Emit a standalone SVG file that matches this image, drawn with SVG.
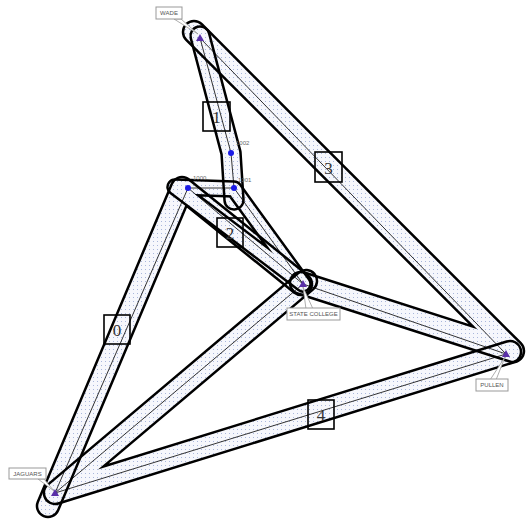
<svg xmlns="http://www.w3.org/2000/svg" xmlns:xlink="http://www.w3.org/1999/xlink" width="526" height="520" viewBox="0 0 526 520">
<style>
.rp{fill:none;stroke-linejoin:round;stroke-linecap:round}
.fillb{stroke:url(#dots)}
.outl{stroke:#000}
.cl{fill:none;stroke:#000;stroke-width:0.8}
.rbox{fill:none;stroke:#000;stroke-width:1.6}
.rnum{font-family:"Liberation Serif",serif;font-size:17px;fill:#333;text-anchor:middle}
.lbox{fill:#fff;stroke:#999;stroke-width:1}
.ltxt{font-family:"Liberation Sans",Arial,sans-serif;font-size:6px;fill:#555;text-anchor:middle}
.lead{fill:#fff;stroke:#999;stroke-width:0.8}
.stop{fill:#1a1ae6}
.term{fill:#5a2fa8}
.num{font-family:"Liberation Sans",Arial,sans-serif;font-size:6px;fill:#666}
</style>
<defs>
<pattern id="dots" width="4" height="4" patternUnits="userSpaceOnUse">
<rect width="4" height="4" fill="#f6f7fc"/>
<rect x="1" y="1" width="1" height="1" fill="#a9b7dc"/>
</pattern>
<path id="r0" class="rp" d="M48,506 L182,188 L301,284"/>
<path id="r1" class="rp" d="M200,36 L231,153 L234,200"/>
<path id="r2" class="rp" d="M175,187 L234,189 L303,284 Z"/>
<path id="r3" class="rp" d="M194,32 L513,351 L301,283"/>
<path id="r4" class="rp" d="M510,352 L55,493 L306,281"/>
<mask id="m0" maskUnits="userSpaceOnUse" x="0" y="0" width="526" height="520"><rect width="526" height="520" fill="#fff"/><use xlink:href="#r0" stroke="#000" stroke-width="19.5"/></mask>
<mask id="m1" maskUnits="userSpaceOnUse" x="0" y="0" width="526" height="520"><rect width="526" height="520" fill="#fff"/><use xlink:href="#r1" stroke="#000" stroke-width="16.5"/></mask>
<mask id="m2" maskUnits="userSpaceOnUse" x="0" y="0" width="526" height="520"><rect width="526" height="520" fill="#fff"/><use xlink:href="#r2" stroke="#000" stroke-width="12.5"/></mask>
<mask id="m3" maskUnits="userSpaceOnUse" x="0" y="0" width="526" height="520"><rect width="526" height="520" fill="#fff"/><use xlink:href="#r3" stroke="#000" stroke-width="19.5"/></mask>
<mask id="m4" maskUnits="userSpaceOnUse" x="0" y="0" width="526" height="520"><rect width="526" height="520" fill="#fff"/><use xlink:href="#r4" stroke="#000" stroke-width="19.5"/></mask>
</defs>
<rect width="526" height="520" fill="#fff"/>
<g id="connectors">
<g id="band-fills">
<use xlink:href="#r0" class="fillb" stroke-width="21"/>
<use xlink:href="#r1" class="fillb" stroke-width="18"/>
<use xlink:href="#r2" class="fillb" stroke-width="14"/>
<use xlink:href="#r3" class="fillb" stroke-width="21"/>
<use xlink:href="#r4" class="fillb" stroke-width="21"/>
</g>
<g id="links">
<path class="cl" d="M55,493 L188,188"/>
<path class="cl" d="M55,493 L303,284"/>
<path class="cl" d="M55,493 L506,354"/>
<path class="cl" d="M188,188 L234,188"/>
<path class="cl" d="M188,188 L303,284"/>
<path class="cl" d="M234,188 L303,284"/>
<path class="cl" d="M200,38 L231,153 L234,188"/>
<path class="cl" d="M200,38 L506,354"/>
<path class="cl" d="M506,354 L303,284"/>
</g>
<g id="band-outlines">
<use xlink:href="#r0" class="outl" stroke-width="24.5" mask="url(#m0)"/>
<use xlink:href="#r1" class="outl" stroke-width="21.5" mask="url(#m1)"/>
<use xlink:href="#r2" class="outl" stroke-width="17.5" mask="url(#m2)"/>
<use xlink:href="#r3" class="outl" stroke-width="24.5" mask="url(#m3)"/>
<use xlink:href="#r4" class="outl" stroke-width="24.5" mask="url(#m4)"/>
</g>
</g>
<g id="route-0"><rect class="rbox" x="104" y="315" width="26" height="29"/><text class="rnum" x="117" y="336">0</text></g>
<g id="route-1"><rect class="rbox" x="203" y="102" width="27" height="29"/><text class="rnum" x="216.5" y="123">1</text></g>
<g id="route-2"><rect class="rbox" x="217" y="218" width="26" height="29"/><text class="rnum" x="230" y="239">2</text></g>
<g id="route-3"><rect class="rbox" x="315" y="152" width="27" height="30"/><text class="rnum" x="328.5" y="174">3</text></g>
<g id="route-4"><rect class="rbox" x="308" y="400" width="26" height="29"/><text class="rnum" x="321" y="421">4</text></g>
<g id="stop-1000"><circle class="stop" cx="188" cy="188" r="3"/><text class="num" x="193" y="180">1000</text></g>
<g id="stop-1001"><circle class="stop" cx="234" cy="188" r="3"/><text class="num" x="238" y="182">1001</text></g>
<g id="stop-1002"><circle class="stop" cx="231" cy="153" r="3"/><text class="num" x="236" y="145">1002</text></g>
<g id="node-wade">
<polygon class="lead" points="174,19 181,19 198,34"/>
<rect class="lbox" x="156" y="7" width="26" height="12"/>
<text class="ltxt" x="169" y="15.2">WADE</text>
<polygon class="term" points="200,34 204,41 196,41"/>
</g>
<g id="node-state-college">
<polygon class="lead" points="306,309 313,309 303,287"/>
<rect class="lbox" x="287" y="308" width="53" height="12"/>
<text class="ltxt" x="313.5" y="316.2">STATE COLLEGE</text>
<polygon class="term" points="303,280 307,287 299,287"/>
</g>
<g id="node-pullen">
<polygon class="lead" points="490,380 496,380 505,357"/>
<rect class="lbox" x="476" y="379" width="32" height="12"/>
<text class="ltxt" x="492" y="387.2">PULLEN</text>
<polygon class="term" points="506,350 510,357 502,357"/>
</g>
<g id="node-jaguars">
<polygon class="lead" points="38,479 44,479 54,491"/>
<rect class="lbox" x="9" y="468" width="37" height="11"/>
<text class="ltxt" x="27.5" y="475.8">JAGUARS</text>
<polygon class="term" points="55,489 59,496 51,496"/>
</g>
</svg>
